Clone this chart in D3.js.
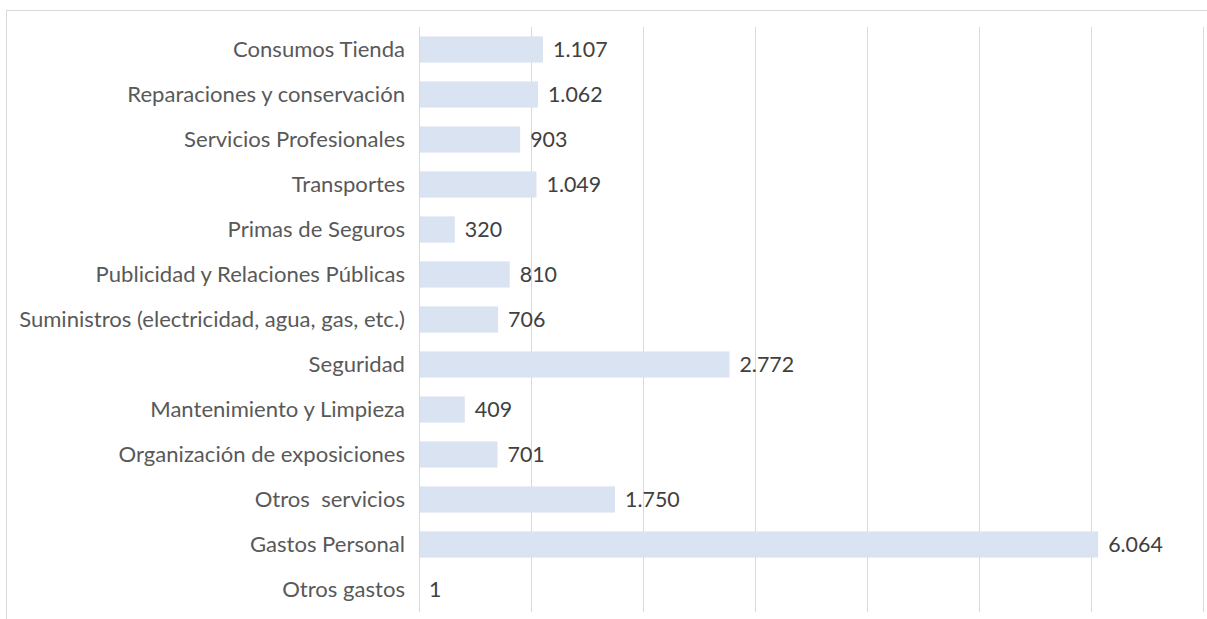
<!DOCTYPE html>
<html><head><meta charset="utf-8">
<script src="https://cdn.jsdelivr.net/npm/d3@7"></script>
<style>
html,body{margin:0;padding:0;background:#fff;}
svg{display:block;}
text{font-family:Lato, "Open Sans", sans-serif; white-space:pre;}
</style></head>
<body>
<svg id="c" width="1207" height="619"></svg>
<script>
const categories = ["Consumos Tienda","Reparaciones y conservación","Servicios Profesionales","Transportes","Primas de Seguros","Publicidad y Relaciones Públicas","Suministros (electricidad, agua, gas, etc.)","Seguridad","Mantenimiento y Limpieza","Organización de exposiciones","Otros  servicios","Gastos Personal","Otros gastos"];
const values = [1107,1062,903,1049,320,810,706,2772,409,701,1750,6064,1];
const valueLabels = ["1.107","1.062","903","1.049","320","810","706","2.772","409","701","1.750","6.064","1"];
const xTicks = [0,1000,2000,3000,4000,5000,6000,7000];

const svg = d3.select("#c");
const W = 1207, H = 619;
const m = {left:419, right:5, top:27, bottom:7};

svg.append("rect").attr("x",6.5).attr("y",10.5).attr("width",1210).attr("height",620)
  .attr("fill","#fff").attr("stroke","#d9d9d9").attr("stroke-width",1);

const x = d3.scaleLinear().domain([0,7000]).range([m.left, m.left + 7*112]);
const y = d3.scaleBand().domain(categories).range([m.top, H - m.bottom]).paddingInner(0.42).paddingOuter(0.21);

// gridlines
svg.append("g").selectAll("line").data(xTicks).join("line")
  .attr("x1",d=>Math.round(x(d))+0.5).attr("x2",d=>Math.round(x(d))+0.5)
  .attr("y1",m.top).attr("y2",H - m.bottom)
  .attr("stroke","#d9d9d9").attr("stroke-width",1);

// bars
svg.append("g").selectAll("rect").data(values).join("rect")
  .attr("x",x(0)+1).attr("y",(d,i)=>y(categories[i]))
  .attr("width",d=>Math.max(0,x(d)-x(0)-1)).attr("height",y.bandwidth())
  .attr("fill","#dae3f1");

// category labels via axis
const ax = svg.append("g").attr("transform",`translate(${m.left},0)`)
  .call(d3.axisLeft(y).tickSize(0).tickPadding(14));
ax.select(".domain").remove();
ax.selectAll("text").attr("fill","#595959").style("font-family","Lato, 'Open Sans', sans-serif")
  .style("white-space","pre").attr("font-size",18);

// fit font size to reference width of the longest label (~386px)
let lw = 0;
ax.selectAll("text").each(function(){ const w=this.getComputedTextLength(); if(w>lw){lw=w;} });
const fs = 18*386/lw;
ax.selectAll("text").attr("font-size",fs);

// value labels
svg.append("g").selectAll("text").data(values).join("text")
  .attr("x",d=>x(d)+10).attr("y",(d,i)=>y(categories[i])+y.bandwidth()/2)
  .attr("dy","0.35em").attr("fill","#404040").attr("font-size",fs*0.97)
  .text((d,i)=>valueLabels[i]);
</script>
</body></html>
